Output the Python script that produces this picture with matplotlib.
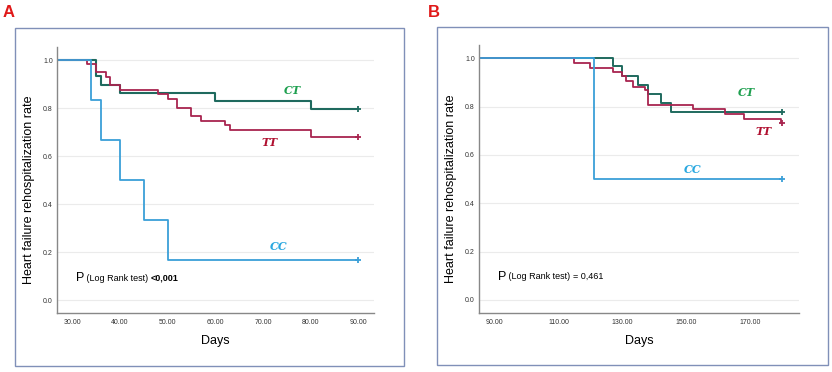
import matplotlib.pyplot as plt
from matplotlib.patches import Rectangle

plt.rcParams['font.family'] = ['Liberation Sans', 'DejaVu Sans']

# Panel A: follow-up 30-90 days (step times, survival after step, censor point)
a_cc_t = [26.8, 34, 36, 40, 45, 50, 90]
a_cc_s = [1.0, 0.833, 0.667, 0.5, 0.333, 0.167, 0.167]
a_ct_t = [26.8, 35, 36, 40, 60, 80, 90]
a_ct_s = [1.0, 0.933, 0.897, 0.864, 0.831, 0.797, 0.797]
a_tt_t = [26.8, 33, 35, 37, 38, 40, 48, 50, 52, 55, 57, 62, 63, 80, 90]
a_tt_s = [1.0, 0.985, 0.951, 0.928, 0.896, 0.876, 0.859, 0.840, 0.802, 0.766,
          0.747, 0.729, 0.711, 0.678, 0.678]

# Panel B: follow-up 90-180 days
b_cc_t = [85.1, 121, 180]
b_cc_s = [1.0, 0.5, 0.5]
b_ct_t = [85.1, 127, 130, 135, 138, 142, 145.3, 180]
b_ct_s = [1.0, 0.967, 0.928, 0.891, 0.854, 0.815, 0.778, 0.778]
b_tt_t = [85.1, 115, 120, 127, 130, 131, 133.3, 137, 138, 152, 162, 168, 179.6, 180]
b_tt_s = [1.0, 0.981, 0.959, 0.944, 0.926, 0.905, 0.883, 0.868, 0.807, 0.790,
          0.771, 0.749, 0.731, 0.731]

y_ticks = [0.0, 0.2, 0.4, 0.6, 0.8, 1.0]
a_xticks = [30, 40, 50, 60, 70, 80, 90]
b_xticks = [90, 110, 130, 150, 170]

c_cc = '#3a9fd8'
c_ct = '#1f6a5e'
c_tt = '#a8244f'

fig = plt.figure(figsize=(8.32, 3.72), dpi=100)

# outer frames
for x0, x1, y0, y1 in [(15, 404, 28, 366), (437, 828, 27, 365)]:
    fig.patches.append(Rectangle((x0 / 832, 1 - y1 / 372), (x1 - x0) / 832,
                                 (y1 - y0) / 372, transform=fig.transFigure,
                                 fill=False, edgecolor='#8090b8', linewidth=1.0))

fig.text(3 / 832, 1 - 17 / 372, 'A', color='#e01818', fontsize=12, fontweight='bold')
fig.text(428 / 832, 1 - 17 / 372, 'B', color='#e01818', fontsize=12, fontweight='bold')


def km_panel(ax, curves, xlim, xticks, labels, ptext):
    for t, s, c, lw in curves:
        ax.step(t, s, where='post', color=c, linewidth=lw)
        ax.plot(t[-1], s[-1], marker='+', color=c, markersize=5, mew=1.3)
    ax.set_xlim(*xlim)
    ax.set_ylim(-0.054, 1.055)
    ax.set_yticks(y_ticks)
    ax.set_yticklabels([f'{v:.1f}' for v in y_ticks], fontsize=5)
    ax.set_xticks(xticks)
    ax.set_xticklabels([f'{v:.2f}' for v in xticks], fontsize=5)
    ax.tick_params(axis='y', length=0, pad=3, colors='#333333')
    ax.tick_params(axis='x', length=0, pad=4, colors='#333333')
    ax.grid(axis='y', color='#ebebeb', linewidth=0.8)
    ax.set_axisbelow(True)
    for sp in ['top', 'right']:
        ax.spines[sp].set_visible(False)
    for sp in ['left', 'bottom']:
        ax.spines[sp].set_color('#888888')
        ax.spines[sp].set_linewidth(1.0)
    ax.set_xlabel('Days', fontsize=9, labelpad=7)
    ax.set_ylabel('Heart failure rehospitalization rate', fontsize=9)
    ax.yaxis.set_label_coords(-0.07, 0.465)
    for txt, x, y, c in labels:
        ax.text(x, y, txt, color=c, fontsize=8, fontstyle='italic', fontweight='bold',
                family='DejaVu Serif', ha='center', va='center')
    p_x, p_y, p_val, bold = ptext
    t1 = ax.text(p_x, p_y, 'P', fontsize=9, va='center')
    t2 = ax.annotate(' (Log Rank test) ', xycoords=t1, xy=(1, 0.5), va='center',
                     fontsize=6.5)
    ax.annotate(p_val, xycoords=t2, xy=(1, 0.5), va='center', fontsize=6.5,
                fontweight='bold' if bold else 'normal')


ax_a = fig.add_axes([57 / 832, 1 - 313 / 372, 317 / 832, 266 / 372])
km_panel(ax_a,
         [(a_ct_t, a_ct_s, c_ct, 1.5), (a_tt_t, a_tt_s, c_tt, 1.3), (a_cc_t, a_cc_s, c_cc, 1.3)],
         (26.8, 93.3), a_xticks,
         [('CT', 76.2, 0.875, '#1fa050'), ('TT', 71.3, 0.656, '#b01030'),
          ('CC', 73.4, 0.222, '#2aa8e0')],
         (30.8, 0.09, '<0,001', True))

ax_b = fig.add_axes([479 / 832, 1 - 313 / 372, 320 / 832, 268 / 372])
km_panel(ax_b,
         [(b_ct_t, b_ct_s, c_ct, 1.4), (b_tt_t, b_tt_s, c_tt, 1.3), (b_cc_t, b_cc_s, c_cc, 1.3)],
         (85.1, 185.3), b_xticks,
         [('CT', 168.9, 0.86, '#1fa050'), ('TT', 174.1, 0.696, '#b01030'),
          ('CC', 151.9, 0.54, '#2aa8e0')],
         (91, 0.096, '= 0,461', False))

fig.savefig('out.png', dpi=100)
